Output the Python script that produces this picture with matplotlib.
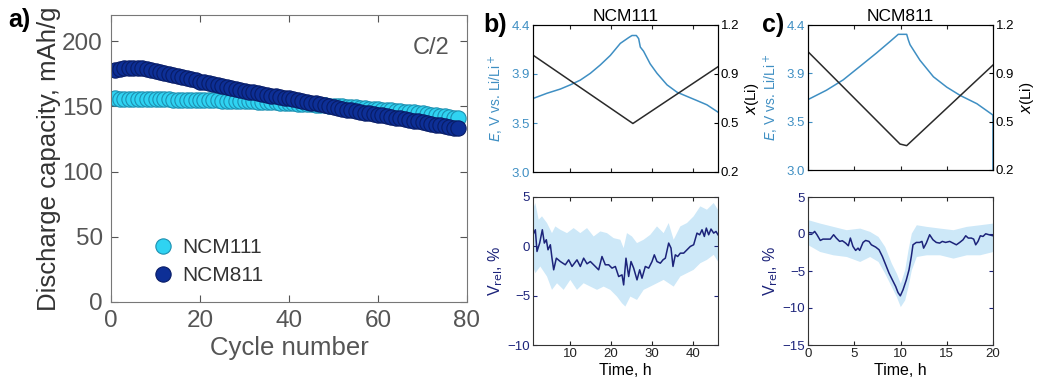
import matplotlib
matplotlib.use("Agg")
import matplotlib.pyplot as plt
import numpy as np

plt.rcParams['font.family'] = ['Liberation Sans', 'DejaVu Sans']

# ---- panel a: discharge capacity vs cycle ----
cycles = list(range(1, 79))
cap_111 = [156.0, 155.9, 155.9, 155.8, 155.7, 155.7, 155.6, 155.5, 155.5, 155.4,
           155.4, 155.3, 155.3, 155.2, 155.1, 155.1, 155.0, 154.9, 154.9, 154.8,
           154.7, 154.6, 154.6, 154.5, 154.4, 154.3, 154.2, 154.1, 154.0, 153.9,
           153.8, 153.7, 153.6, 153.5, 153.3, 153.2, 153.0, 152.9, 152.7, 152.5,
           152.3, 152.1, 151.9, 151.7, 151.5, 151.3, 151.1, 150.8, 150.6, 150.4,
           150.1, 149.9, 149.7, 149.4, 149.1, 148.9, 148.6, 148.3, 148.0, 147.7,
           147.4, 147.1, 146.9, 146.6, 146.3, 146.0, 145.6, 145.3, 144.9, 144.5,
           144.1, 143.7, 143.2, 142.8, 142.3, 141.8, 141.3, 140.7]
cap_811 = [178.0, 178.6, 179.1, 179.4, 179.5, 179.4, 179.0, 178.5, 177.8, 177.1,
           176.3, 175.5, 174.6, 173.8, 173.0, 172.2, 171.4, 170.6, 169.8, 169.0,
           168.3, 167.6, 166.8, 166.1, 165.4, 164.7, 164.0, 163.3, 162.6, 161.9,
           161.2, 160.6, 160.0, 159.4, 158.8, 158.2, 157.7, 157.1, 156.5, 156.0,
           155.4, 154.9, 154.3, 153.6, 152.9, 152.2, 151.5, 150.8, 150.1, 149.4,
           148.8, 148.1, 147.5, 146.8, 146.2, 145.7, 145.1, 144.6, 144.0, 143.5,
           143.0, 142.4, 141.9, 141.3, 140.8, 140.2, 139.6, 139.0, 138.4, 137.8,
           137.2, 136.6, 136.0, 135.4, 134.8, 134.2, 133.6, 133.0]

# ---- panel b: NCM111 ----
b_t_e = [1.0, 4.41, 7.65, 10.08, 12.5, 14.95, 17.38, 19.8, 22.24, 24.27, 25.08,
         26.14, 26.7, 27.1, 27.9, 29.5, 31.16, 33.6, 36.03, 38.46, 40.9, 43.3, 46.0]
b_e = [3.70, 3.75, 3.79, 3.83, 3.875, 3.94, 4.02, 4.11, 4.225, 4.28, 4.30,
       4.30, 4.27, 4.19, 4.15, 4.03, 3.94, 3.83, 3.76, 3.72, 3.68, 3.64, 3.57]
b_t_x = [1.0, 25.3, 46.0]
b_xli = [0.995, 0.53, 0.916]

b_t = [1.0, 1.57, 1.97, 2.62, 3.27, 3.76, 4.24, 4.65, 5.22, 5.62, 6.03, 6.68,
       7.65, 8.86, 9.68, 10.49, 11.70, 12.51, 13.32, 14.14, 14.95, 16.16, 16.97,
       17.78, 18.59, 19.41, 20.22, 21.03, 21.84, 22.65, 23.05, 23.62, 24.27,
       24.84, 25.49, 26.30, 26.95, 27.51, 28.32, 29.14, 29.95, 30.51, 31.16,
       31.97, 32.62, 33.19, 34.00, 34.57, 35.05, 35.62, 36.19, 36.84, 37.65,
       38.46, 39.27, 40.08, 40.89, 41.54, 42.11, 42.68, 43.16, 43.73, 44.30,
       44.95, 45.51, 46.0]
b_v = [1.17, 1.68, -0.52, 0.33, 1.68, 0.33, 0.67, -0.35, 0.16, -1.20, -2.38,
       -1.20, -1.54, -1.87, -1.37, -2.04, -1.37, -2.04, -1.20, -1.77, -1.54,
       -2.04, -2.38, -1.03, -1.87, -1.87, -2.21, -2.04, -3.06, -2.89, -3.91,
       -1.20, -3.06, -1.54, -2.21, -3.40, -2.38, -3.23, -2.04, -2.21, -1.54,
       -0.86, -1.54, -1.71, -1.37, -1.20, 0.33, -0.18, -2.04, -0.86, -1.03,
       -0.69, -0.69, -0.35, -0.01, 0.16, 1.34, 1.17, 1.68, 1.00, 1.85, 1.17,
       1.75, 1.34, 1.51, 1.17]
b_band_t = [1.0, 1.57, 2.38, 3.19, 4.41, 5.62, 6.43, 7.65, 9.27, 10.89, 12.51,
            14.14, 15.76, 17.38, 19.0, 20.62, 22.24, 23.05, 23.86, 25.08, 26.30,
            27.92, 29.54, 31.16, 32.78, 34.0, 35.22, 36.84, 38.46, 40.08, 41.70,
            43.32, 44.95, 46.0]
b_band_hi = [3.71, 4.39, 2.70, 3.04, 2.36, 1.34, 2.02, 1.68, 1.34, 1.85, 1.34,
             1.85, 1.00, 1.51, 1.34, 0.83, 0.67, -0.18, 1.34, 1.00, 0.33, 0.67,
             1.17, 2.02, 1.34, 2.36, 0.67, 2.02, 2.36, 3.04, 4.05, 3.71, 4.39, 3.71]
b_low_t = [1.0, 1.57, 2.78, 4.41, 5.62, 6.84, 8.46, 10.08, 11.70, 13.32, 14.95,
           16.57, 18.19, 19.81, 21.43, 22.65, 23.46, 24.68, 26.30, 27.92, 29.54,
           31.16, 32.78, 34.0, 35.22, 36.84, 38.46, 40.08, 41.70, 43.32, 44.95, 46.0]
b_band_lo = [-2.04, -2.72, -2.04, -3.06, -4.41, -3.74, -4.41, -3.40, -4.41,
             -3.74, -4.08, -4.41, -4.08, -4.41, -5.09, -5.77, -6.10, -5.09, -5.43,
             -4.41, -4.08, -3.74, -3.40, -3.74, -4.08, -3.06, -2.72, -2.38, -1.71,
             -1.37, -0.86, -1.54]

# ---- panel c: NCM811 ----
c_t_e = [0.0, 0.0, 1.99, 3.80, 5.61, 7.41, 8.86, 9.76, 10.67, 10.85, 11.03,
         12.1, 13.56, 15.0, 16.45, 18.26, 20.0, 20.0]
c_e = [3.0, 3.68, 3.77, 3.87, 4.00, 4.13, 4.24, 4.31, 4.31, 4.255, 4.21,
       4.06, 3.90, 3.80, 3.72, 3.64, 3.53, 3.0]
c_t_x = [0.0, 9.95, 10.67, 20.0]
c_xli = [1.016, 0.379, 0.368, 0.924]

c_t = [0.0, 0.54, 0.72, 0.97, 1.33, 1.62, 1.98, 2.41, 2.77, 3.06, 3.42, 3.71,
       4.07, 4.36, 4.58, 4.86, 5.15, 5.41, 5.59, 5.95, 6.23, 6.59, 6.85, 7.32,
       7.68, 8.04, 8.40, 8.76, 9.12, 9.48, 9.73, 9.98, 10.27, 10.63, 10.92,
       11.17, 11.35, 11.71, 12.07, 12.32, 12.50, 12.79, 13.15, 13.51, 13.87,
       14.23, 14.52, 14.88, 15.32, 15.68, 16.04, 16.40, 16.76, 17.05, 17.33,
       17.66, 17.91, 18.13, 18.38, 18.63, 18.92, 19.21, 19.57, 20.0]
c_v = [0.21, 0.12, 0.35, -0.10, -0.87, -0.69, -0.69, -0.69, -0.10, -0.55,
       -1.00, -0.91, -1.23, -1.59, -0.55, -1.68, -2.22, -1.91, -2.22, -1.14,
       -0.87, -1.00, -1.46, -1.77, -2.13, -3.04, -4.16, -5.29, -6.20, -7.10,
       -7.91, -8.36, -7.55, -6.20, -4.84, -3.04, -1.46, -1.14, -1.14, -1.00,
       -1.91, -1.23, -0.10, -0.78, -1.14, -1.23, -1.00, -1.14, -1.00, -1.23,
       -1.46, -1.14, -0.78, -0.24, -0.55, -0.55, -0.69, -1.46, -1.00, -0.24,
       -0.33, 0.03, -0.10, -0.24]
c_band_t = [0.0, 1.26, 2.70, 4.14, 5.59, 6.67, 7.57, 8.29, 9.01, 9.55, 9.98,
            10.45, 10.81, 11.17, 11.71, 12.79, 14.23, 15.68, 17.12, 18.56, 20.0]
c_band_hi = [1.93, 1.48, 1.03, 0.58, 0.80, 0.35, -0.33, -1.68, -3.94, -5.29,
             -6.65, -4.84, -2.13, 0.12, 1.25, 1.03, 0.80, 0.58, 1.03, 1.25, 1.48]
c_band_lo = [-1.46, -2.36, -2.81, -3.04, -3.71, -3.04, -3.71, -5.29, -7.10,
             -8.45, -9.81, -8.91, -7.10, -4.84, -3.04, -2.81, -2.81, -3.26,
             -2.81, -2.81, -2.36]

W, H = 1043, 385
E_BLUE = '#3f8fc3'
NAVY = '#1c237a'
BAND = '#cde8f8'
GREY = '#555555'


def rect(l, t, r, b):
    return [l / W, 1 - b / H, (r - l) / W, (b - t) / H]


def style_small(ax, color_y='#222222'):
    ax.tick_params(direction='in', length=3, labelsize=9.5, top=True, pad=2)
    ax.tick_params(axis='y', colors=color_y, labelcolor=color_y)
    ax.tick_params(axis='x', colors='#222222')
    for s in ax.spines.values():
        s.set_color('#333333')
        s.set_linewidth(0.8)


fig = plt.figure(figsize=(W / 100, H / 100), dpi=100)

# panel a
ax = fig.add_axes(rect(111, 15, 467, 302))
ax.plot(cycles, cap_111, 'o', ms=11, mfc='#2fd3f2', mec='#1d8fb0', mew=0.8,
        label='NCM111')
ax.plot(cycles, cap_811, 'o', ms=11, mfc='#0d2f96', mec='#081c66', mew=0.8,
        label='NCM811')
ax.set_xlim(0, 80)
ax.set_ylim(0, 220)
ax.set_xticks([0, 20, 40, 60, 80])
ax.set_yticks([0, 50, 100, 150, 200])
ax.tick_params(direction='in', length=5, labelsize=17.5, colors=GREY,
               top=True, right=True, pad=6)
for s in ax.spines.values():
    s.set_color('#777777')
ax.set_xlabel('Cycle number', fontsize=18.5, color=GREY, labelpad=3)
ax.set_ylabel('Discharge capacity, mAh/g', fontsize=18.5, color='#333333',
              labelpad=1)
ax.text(0.9, 0.885, 'C/2', transform=ax.transAxes, fontsize=17, color=GREY,
        ha='center', va='center')
ax.legend(loc='lower left', bbox_to_anchor=(0.117, 0.058), frameon=False,
          fontsize=15, handlelength=1.0, handletextpad=0.4, labelspacing=0.45,
          borderpad=0, labelcolor='#333333', borderaxespad=0)
fig.text(8 / W, 1 - 20 / H, 'a)', fontsize=18, fontweight='bold', va='center')

# panel b
axb = fig.add_axes(rect(533, 25, 718, 172))
axb.plot(b_t_e, b_e, color=E_BLUE, lw=1.1)
axb.set_xlim(1, 46)
axb.set_ylim(3.0, 4.4)
axb.set_yticks(np.linspace(3.0, 4.4, 4))
axb.set_yticklabels(['3.0', '3.5', '3.9', '4.4'])
axb.set_xticks([10, 20, 30, 40])
axb.set_xticklabels([])
style_small(axb, E_BLUE)
axb.set_ylabel(r'$E$, V vs. Li/Li$^+$', color=E_BLUE, fontsize=10, labelpad=4)
axb.set_title('NCM111', fontsize=12.5, pad=3)
axb2 = axb.twinx()
axb2.plot(b_t_x, b_xli, color='#2a2a2a', lw=1.1)
axb2.set_ylim(0.2, 1.2)
axb2.set_yticks(np.linspace(0.2, 1.2, 4))
axb2.set_yticklabels(['0.2', '0.5', '0.9', '1.2'])
axb2.tick_params(direction='in', length=3, labelsize=9.5, pad=2)
axb2.set_ylabel(r'$x$(Li)', fontsize=11, labelpad=3)
fig.text(483 / W, 1 - 25 / H, 'b)', fontsize=18, fontweight='bold',
         va='center')

axbb = fig.add_axes(rect(533, 197, 718, 345))
band_x = b_band_t + b_low_t[::-1]
band_y = b_band_hi + b_band_lo[::-1]
axbb.fill(band_x, band_y, color=BAND, lw=0)
axbb.plot(b_t, b_v, color=NAVY, lw=1.1)
axbb.set_xlim(1, 46)
axbb.set_ylim(-10, 5)
axbb.set_xticks([10, 20, 30, 40])
axbb.set_yticks([-10, -5, 0, 5])
style_small(axbb, NAVY)
axbb.tick_params(right=True)
axbb.set_xlabel('Time, h', fontsize=11.5, labelpad=2)
axbb.set_ylabel(r'V$_{\rm rel}$, %', color=NAVY, fontsize=11.5, labelpad=2)

# panel c
axc = fig.add_axes(rect(808, 25, 993, 170))
axc.plot(c_t_e, c_e, color=E_BLUE, lw=1.1)
axc.set_xlim(0, 20)
axc.set_ylim(3.0, 4.4)
axc.set_yticks(np.linspace(3.0, 4.4, 4))
axc.set_yticklabels(['3.0', '3.5', '3.9', '4.4'])
axc.set_xticks([0, 5, 10, 15, 20])
axc.set_xticklabels([])
style_small(axc, E_BLUE)
axc.set_ylabel(r'$E$, V vs. Li/Li$^+$', color=E_BLUE, fontsize=10, labelpad=4)
axc.set_title('NCM811', fontsize=12.5, pad=3)
axc2 = axc.twinx()
axc2.plot(c_t_x, c_xli, color='#2a2a2a', lw=1.1)
axc2.set_ylim(0.2, 1.2)
axc2.set_yticks(np.linspace(0.2, 1.2, 4))
axc2.set_yticklabels(['0.2', '0.5', '0.9', '1.2'])
axc2.tick_params(direction='in', length=3, labelsize=9.5, pad=2)
axc2.set_ylabel(r'$x$(Li)', fontsize=11, labelpad=3)
fig.text(762 / W, 1 - 25 / H, 'c)', fontsize=18, fontweight='bold',
         va='center')

axcb = fig.add_axes(rect(808, 197, 993, 345))
axcb.fill_between(c_band_t, c_band_lo, c_band_hi, color=BAND, lw=0)
axcb.plot(c_t, c_v, color=NAVY, lw=1.1)
axcb.set_xlim(0, 20)
axcb.set_ylim(-15, 5)
axcb.set_xticks([0, 5, 10, 15, 20])
axcb.set_yticks([-15, -10, -5, 0, 5])
style_small(axcb, NAVY)
axcb.tick_params(right=True)
axcb.set_xlabel('Time, h', fontsize=11.5, labelpad=2)
axcb.set_ylabel(r'V$_{\rm rel}$, %', color=NAVY, fontsize=11.5, labelpad=2)

fig.savefig('out.png', dpi=100)
